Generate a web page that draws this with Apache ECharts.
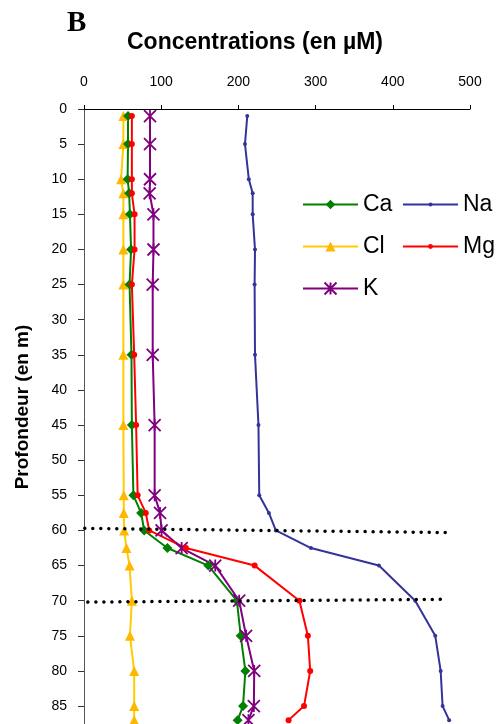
<!DOCTYPE html>
<html><head><meta charset="utf-8">
<script src="https://cdn.jsdelivr.net/npm/echarts@6/dist/echarts.min.js"></script>
<style>html,body{margin:0;padding:0;background:#fff}#c{width:496px;height:724px}</style>
</head><body><div id="c"></div>
<script>
const depths = [1, 5, 10, 12, 15, 20, 25, 35, 45, 55, 57.5, 60, 62.5, 65, 70, 75, 80, 85, 87];
const ca = [57, 57, 56.5, 58.5, 59.5, 61, 59, 61.5, 62, 64, 74, 78, 108, 161, 198, 203, 209, 206, 199];
const na = [211.5, 208.5, 213.5, 218.5, 218.5, 221.5, 221, 221.5, 226, 227, 239.5, 248.5, 294, 382, 429, 455, 462, 464.5, 473];
const cl = [51, 51, 48, 51, 51, 51, 51, 51, 51, 51.5, 51.5, 52, 55, 59, 62, 59.5, 65, 65, 65];
const mg = [62, 62, 62, 62, 65.5, 65.5, 62, 65, 67.5, 69.5, 80, 84.5, 132, 221, 279, 290, 293, 285, 265];
const k = [85.5, 85.5, 85.5, 85, 90, 90, 89, 89, 91.5, 91.5, 98.5, 100.5, 126.5, 170, 201, 210, 220.5, 220, 213];
const xTicks = [0, 100, 200, 300, 400, 500];
const yTicks = [0, 5, 10, 15, 20, 25, 30, 35, 40, 45, 50, 55, 60, 65, 70, 75, 80, 85];
const dividerLines = [[[1, 59.7], [470, 60.3]], [[5, 70.2], [471.5, 69.8]]];

const pairs = vals => vals.map((v, i) => [v, depths[i]]);
const starPath = 'path://M0,0L10,10M10,0L0,10M5,0L5,10';

const chart = echarts.init(document.getElementById('c'), null, {renderer: 'canvas'});
function mkSeries(name, vals, color, symbol, size, markerColor, extra) {
  return Object.assign({
    name, type: 'line', data: pairs(vals),
    symbol, symbolSize: size,
    lineStyle: {color, width: 2},
    itemStyle: {color: markerColor || color, borderColor: markerColor || color, borderWidth: 0},
    emphasis: {disabled: true},
    z: 3
  }, extra || {});
}
function mkLegend(name, left, top, h) {
  return {
    data: [name], left, top, itemWidth: 55, itemHeight: h, itemGap: 6,
    selectedMode: false, orient: 'vertical',
    textStyle: {fontFamily: 'Liberation Sans, Arial', fontSize: 23, color: '#000', padding: [0, 0, 0, 0]},
    padding: 0
  };
}
const option = {
  animation: false,
  backgroundColor: '#fff',
  grid: {left: 84, right: 26, top: 109, bottom: -17.2, containLabel: false, outerBoundsMode: 'none'},
  xAxis: {
    type: 'value', position: 'top', min: xTicks[0], max: xTicks[xTicks.length - 1], interval: 100,
    axisLine: {show: true, lineStyle: {color: '#000', width: 1}},
    axisTick: {show: true, length: 4, lineStyle: {color: '#000'}},
    axisLabel: {margin: 20, fontFamily: 'Liberation Sans, Arial', fontSize: 14, color: '#000'},
    splitLine: {show: false}
  },
  yAxis: {
    type: 'value', inverse: true, min: 0, max: 90, interval: 5,
    axisLine: {show: true, lineStyle: {color: '#555', width: 1}},
    axisTick: {show: true, length: 6, lineStyle: {color: '#333'}},
    axisLabel: {margin: 17, fontFamily: 'Liberation Sans, Arial', fontSize: 14, color: '#000'},
    splitLine: {show: false}
  },
  legend: [
    mkLegend('Ca', 302, 193, 12),
    mkLegend('Cl', 302, 235, 12.5),
    mkLegend('K', 302, 277, 15),
    mkLegend('Na', 402, 193, 5),
    mkLegend('Mg', 402, 235, 6)
  ],
  graphic: [
    {type: 'text', left: 67, top: 9, style: {text: 'B', font: 'bold 29px "Liberation Serif", "Times New Roman"', fill: '#000'}},
    {type: 'text', x: 255, y: 43, style: {text: 'Concentrations (en µM)', font: 'bold 23px "Liberation Sans", Arial', fill: '#000', align: 'center', verticalAlign: 'middle'}},
    {type: 'text', x: 23, y: 407, rotation: Math.PI / 2, style: {text: 'Profondeur (en m)', font: 'bold 19px "Liberation Sans", Arial', fill: '#000', align: 'center', verticalAlign: 'middle'}}
  ],
  series: [
    {
      name: 'dividers', type: 'line', data: [], silent: true,
      markLine: {
        silent: true, symbol: ['none', 'none'], animation: false,
        label: {show: false},
        lineStyle: {color: '#000', type: [0.01, 8], width: 3.5, cap: 'round'},
        emphasis: {disabled: true},
        data: dividerLines.map(l => [{coord: l[0]}, {coord: l[1]}])
      },
      z: 5
    },
    mkSeries('Cl', cl, '#FFCC00', 'triangle', 10, '#FFB800'),
    mkSeries('Na', na, '#333399', 'circle', 4),
    mkSeries('Ca', ca, '#008000', 'diamond', 10),
    mkSeries('K', k, '#800080', starPath, 12, null, {itemStyle: {color: '#800080', borderColor: '#800080', borderWidth: 1.8}}),
    mkSeries('Mg', mg, '#FF0000', 'circle', 6)
  ]
};
chart.setOption(option);
</script></body></html>
